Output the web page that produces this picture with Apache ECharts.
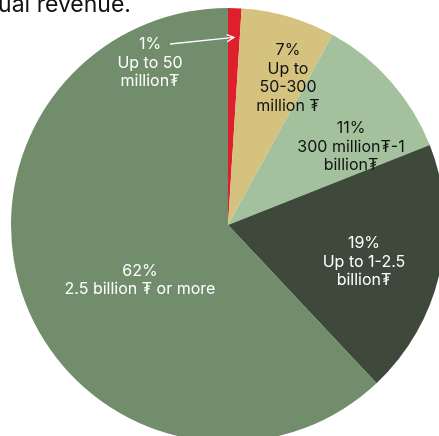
<!DOCTYPE html>
<html>
<head>
<meta charset="utf-8">
<script src="https://cdn.jsdelivr.net/npm/echarts@6/dist/echarts.min.js"></script>
<style>
  html, body { margin: 0; padding: 0; background: #fff; }
  #chart { width: 439px; height: 436px; }
</style>
</head>
<body>
<div id="chart"></div>
<script>
// Revenue bands and their shares of companies (%)
const bandPercents = ['1%', '7%', '11%', '19%', '62%'];
const bandNames = [
  'Up to 50\nmillion₮',
  'Up to\n50-300\nmillion ₮',
  '300 million₮-1\nbillion₮',
  'Up to 1-2.5\nbillion₮',
  '2.5 billion ₮ or more'
];
const shareValues = [1, 7, 11, 19, 62];
const sliceColors = ['#dd202b', '#d5c27e', '#a4c19d', '#3e493c', '#718d6b'];
const labelColors = ['#ffffff', '#111111', '#111111', '#ffffff', '#ffffff'];

const FONT = 'Inter, "Noto Sans", "DejaVu Sans", sans-serif';
const CX = 228, CY = 225, R = 217, START = 90;

// label anchor points (pixels) for each band's caption
const labelSpots = [[150, 63], [288, 78], [351, 147], [364, 262], [140, 280]];

const chart = echarts.init(document.getElementById('chart'), null, { renderer: 'canvas' });

// arrow from the smallest band's caption towards its thin slice
const total = shareValues.reduce((a, b) => a + b, 0);
const midDeg = START - (shareValues[0] / 2 / total) * 360;
const tipR = R * 0.865;
const tipX = CX + Math.cos(midDeg * Math.PI / 180) * tipR;
const tipY = CY - Math.sin(midDeg * Math.PI / 180) * tipR;
const tailX = 170, tailY = 44;
const ang = Math.atan2(tipY - tailY, tipX - tailX);
const headLen = 7, headW = 3.5;
const hx = tipX - Math.cos(ang) * headLen, hy = tipY - Math.sin(ang) * headLen;

chart.setOption({
  animation: false,
  graphic: [
    {
      type: 'text', left: -42, top: -6,
      style: { text: 'annual revenue.', font: '400 23px ' + FONT, fill: '#111' }
    },
    {
      type: 'line', z: 100,
      shape: { x1: tailX, y1: tailY, x2: tipX, y2: tipY },
      style: { stroke: '#ffffff', lineWidth: 1.3 }
    },
    {
      type: 'polyline', z: 100,
      shape: { points: [
        [hx - Math.sin(ang) * headW, hy + Math.cos(ang) * headW],
        [tipX, tipY],
        [hx + Math.sin(ang) * headW, hy - Math.cos(ang) * headW]
      ] },
      style: { stroke: '#ffffff', lineWidth: 1.3, fill: null }
    }
  ],
  series: [{
    type: 'pie',
    center: [CX, CY],
    radius: [0, R],
    startAngle: START,
    clockwise: true,
    silent: true,
    data: shareValues.map((v, i) => ({
      value: v,
      name: bandNames[i],
      itemStyle: { color: sliceColors[i] },
      label: { color: labelColors[i] }
    })),
    label: {
      show: true,
      position: 'inside',
      formatter: (p) => bandPercents[p.dataIndex] + '\n' + bandNames[p.dataIndex],
      fontFamily: FONT,
      fontSize: 16,
      lineHeight: 18.5,
      align: 'center'
    },
    labelLine: { show: false },
    labelLayout: (p) => ({ x: labelSpots[p.dataIndex][0], y: labelSpots[p.dataIndex][1], align: 'center', verticalAlign: 'middle' })
  }]
});
</script>
</body>
</html>
